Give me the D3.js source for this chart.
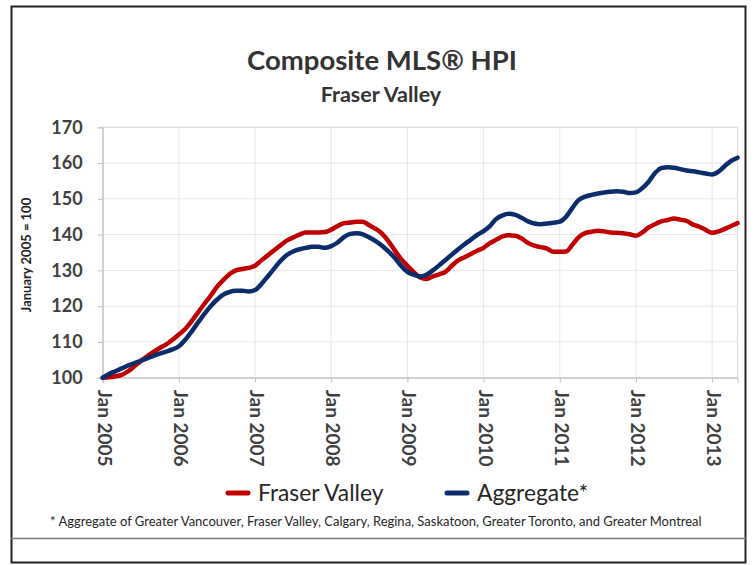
<!DOCTYPE html>
<html>
<head>
<meta charset="utf-8">
<script src="https://cdn.jsdelivr.net/npm/d3@7"></script>
<style>
  body { margin: 0; background: #fff; }
  svg { display: block; font-family: Lato, "Open Sans", sans-serif; }
</style>
</head>
<body>
<svg id="chart" width="755" height="565"></svg>
<script>
// monthly index values, Jan 2005 = 100 (index 0 = Jan 2005)
const fraserValley = [
  100, 100.1, 100.4, 100.8, 101.8, 103.2, 104.7, 106, 107.2, 108.3, 109.3, 110.6,
  112.1, 113.6, 115.8, 118.2, 120.6, 122.9, 125.4, 127.3, 129, 130, 130.4, 130.7,
  131.3, 132.8, 134.2, 135.6, 137, 138.3, 139.2, 140, 140.6, 140.6, 140.6, 140.7,
  141.4, 142.4, 143.2, 143.4, 143.6, 143.6, 142.6, 141.6, 140.3, 138.2, 135.6, 133.2,
  131.3, 129.5, 128, 127.6, 128.3, 128.9, 129.6, 131.3, 132.8, 133.7, 134.6, 135.5,
  136.3, 137.6, 138.6, 139.5, 139.8, 139.7, 138.9, 137.7, 136.9, 136.5, 136.1, 135.2,
  135.2, 135.3, 137.2, 139.3, 140.4, 140.8, 141.1, 140.9, 140.6, 140.5, 140.4, 140.1,
  139.7, 140.6, 142, 142.9, 143.7, 144.1, 144.5, 144.2, 143.8, 142.8, 142.2, 141.3,
  140.5, 140.9, 141.6, 142.4, 143.2
];
const aggregate = [
  100, 101, 101.8, 102.6, 103.4, 104.1, 104.7, 105.4, 106.1, 106.7, 107.3, 107.9,
  108.8, 110.6, 112.9, 115.4, 117.8, 120, 121.8, 123.2, 124, 124.3, 124.3, 124.1,
  124.5, 126.2, 128.3, 130.5, 132.6, 134.3, 135.3, 135.9, 136.3, 136.6, 136.6, 136.3,
  136.8, 137.8, 139.3, 140.2, 140.4, 140.1, 139.2, 138.2, 136.9, 135.3, 133.5, 131.3,
  129.6, 128.8, 128.3, 128.8, 130, 131.4, 132.9, 134.4, 135.9, 137.3, 138.6, 139.9,
  141, 142.4, 144.4, 145.4, 145.8, 145.5, 144.7, 143.7, 143.1, 142.9, 143.1, 143.3,
  143.6, 145, 147.5, 149.7, 150.6, 151.1, 151.5, 151.8, 152, 152.1, 152, 151.6,
  151.8, 153, 154.8, 157.2, 158.6, 158.8, 158.7, 158.3, 157.9, 157.7, 157.4, 157.1,
  156.8, 157.6, 159.2, 160.6, 161.5
];
const tickLabels = ["Jan 2005", "Jan 2006", "Jan 2007", "Jan 2008", "Jan 2009",
  "Jan 2010", "Jan 2011", "Jan 2012", "Jan 2013"];
const yTicks = [100, 110, 120, 130, 140, 150, 160, 170];
const seriesNames = ["Fraser Valley", "Aggregate*"];
const seriesColors = ["#c00000", "#0a2c6b"];

const svg = d3.select('#chart');

// outer frame
svg.append('rect')
  .attr('x', 11.5).attr('y', 6.5).attr('width', 734).attr('height', 556)
  .attr('fill', 'none').attr('stroke', '#222').attr('stroke-width', 2);
svg.append('line')
  .attr('x1', 11).attr('x2', 746).attr('y1', 538.5).attr('y2', 538.5)
  .attr('stroke', '#777').attr('stroke-width', 1.5);

// titles
svg.append('text')
  .attr('x', 382).attr('y', 70).attr('text-anchor', 'middle')
  .attr('font-size', 27.5).attr('font-weight', 'bold').attr('fill', '#333')
  .text('Composite MLS® HPI');
svg.append('text')
  .attr('x', 381).attr('y', 102).attr('text-anchor', 'middle')
  .attr('font-size', 21.5).attr('font-weight', 'bold').attr('fill', '#333')
  .text('Fraser Valley');

const x = d3.scaleLinear().domain([0, 100]).range([102.7, 737.5]);
const y = d3.scaleLinear().domain([100, 170]).range([377.7, 127.3]);

// gridlines
const grid = svg.append('g');
grid.selectAll('.hg').data(yTicks).join('line')
  .attr('x1', x(0)).attr('x2', x(100))
  .attr('y1', d => y(d)).attr('y2', d => y(d))
  .attr('stroke', '#e6e6e6').attr('stroke-width', 1);
grid.selectAll('.vg').data(tickLabels).join('line')
  .attr('x1', (d, i) => x(i * 12)).attr('x2', (d, i) => x(i * 12))
  .attr('y1', y(170)).attr('y2', y(100))
  .attr('stroke', '#e6e6e6').attr('stroke-width', 1);
svg.append('rect')
  .attr('x', x(0)).attr('y', y(170))
  .attr('width', x(100) - x(0)).attr('height', y(100) - y(170))
  .attr('fill', 'none').attr('stroke', '#d9d9d9');

// y axis
const yAxis = svg.append('g')
  .attr('transform', `translate(${x(0)},0)`)
  .call(d3.axisLeft(y).tickValues(yTicks).tickSize(5).tickPadding(15));
yAxis.select('.domain').attr('stroke', '#bfbfbf');
yAxis.selectAll('.tick line').attr('stroke', '#bfbfbf');
yAxis.selectAll('.tick text')
  .attr('font-size', 18).attr('font-weight', 'bold').attr('fill', '#404040')
  .attr('font-family', 'Lato, sans-serif');

// x axis
const xAxis = svg.append('g')
  .attr('transform', `translate(0,${y(100)})`)
  .call(d3.axisBottom(x)
    .tickValues(tickLabels.map((d, i) => i * 12))
    .tickFormat((d, i) => tickLabels[i])
    .tickSize(5));
xAxis.select('.domain').attr('stroke', '#bfbfbf');
xAxis.selectAll('.tick line').attr('stroke', '#bfbfbf');
xAxis.selectAll('.tick text')
  .attr('font-size', 19).attr('font-weight', 'bold').attr('fill', '#404040')
  .attr('font-family', 'Lato, sans-serif')
  .attr('text-anchor', 'start')
  .attr('dy', null)
  .attr('y', 0)
  .attr('transform', 'translate(-5.5,12) rotate(90)');

// y axis title
svg.append('text')
  .attr('transform', 'translate(31,255) rotate(-90)')
  .attr('text-anchor', 'middle')
  .attr('font-size', 13).attr('font-weight', 'bold').attr('fill', '#222')
  .text('January 2005 = 100');

// lines
const line = d3.line()
  .x((d, i) => x(i))
  .y(d => y(d))
  .curve(d3.curveMonotoneX);
[fraserValley, aggregate].forEach((series, k) => {
  svg.append('path')
    .datum(series)
    .attr('d', line)
    .attr('fill', 'none')
    .attr('stroke', seriesColors[k])
    .attr('stroke-width', 4.5)
    .attr('stroke-linejoin', 'round')
    .attr('stroke-linecap', 'round');
});

// legend
const legendX = [228, 447];
seriesNames.forEach((name, k) => {
  svg.append('line')
    .attr('x1', legendX[k]).attr('x2', legendX[k] + 20)
    .attr('y1', 493).attr('y2', 493)
    .attr('stroke', seriesColors[k]).attr('stroke-width', 5)
    .attr('stroke-linecap', 'round');
  svg.append('text')
    .attr('x', legendX[k] + 30).attr('y', 501)
    .attr('font-size', 22.8).attr('fill', '#262626')
    .text(name);
});

// footnote
svg.append('text')
  .attr('x', 50).attr('y', 526)
  .attr('font-size', 13).attr('fill', '#262626')
  .text('* Aggregate of Greater Vancouver, Fraser Valley, Calgary, Regina, Saskatoon, Greater Toronto, and Greater Montreal');
</script>
</body>
</html>
